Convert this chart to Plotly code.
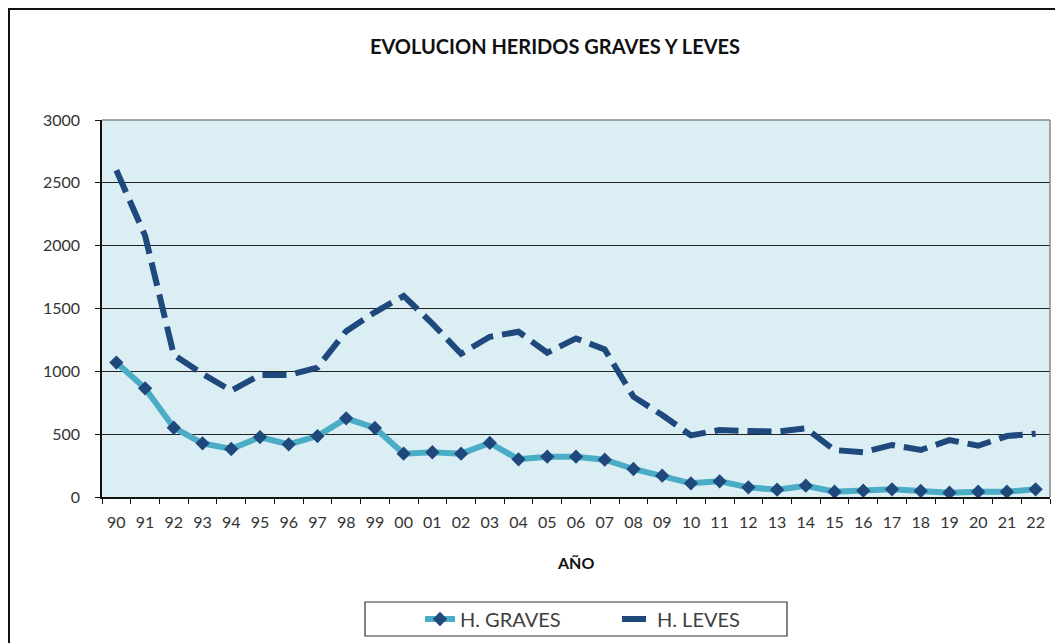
import plotly.graph_objects as go

years = ['90', '91', '92', '93', '94', '95', '96', '97', '98', '99',
         '00', '01', '02', '03', '04', '05', '06', '07', '08', '09',
         '10', '11', '12', '13', '14', '15', '16', '17', '18', '19',
         '20', '21', '22']
graves = [1070, 865, 551, 427, 382, 477, 419, 485, 626, 549,
          345, 356, 345, 430, 300, 321, 321, 297, 223, 170,
          109, 125, 77, 58, 90, 42, 50, 61, 48, 34,
          42, 42, 61]
leves = [2600, 2080, 1130, 980, 846, 970, 970, 1030, 1320, 1470,
         1600, 1380, 1140, 1275, 1315, 1148, 1262, 1175, 798, 652,
         490, 533, 525, 520, 546, 374, 355, 414, 374, 453,
         408, 485, 504]
yticks = [0, 500, 1000, 1500, 2000, 2500, 3000]

# the page body adds an 8px margin; size the figure to reach the window edges
OFF = 8
W, H = 1063 - OFF, 643 - OFF
# plot area in screen pixels: x 102..1050, y 120..497
SL, SR, ST, SB = 102, 1050, 120, 497
L, R, T, B = SL - OFF, W - (SR - OFF), ST - OFF, H - (SB - OFF)
PW, PH = W - L - R, H - T - B

def px(x):
    return (x - OFF - L) / PW

def py(y):
    return (H - B - (y - OFF)) / PH

def cx(x):
    return (x - OFF) / W

def cy(y):
    return 1 - (y - OFF) / H

FONT = "Lato, 'Open Sans', sans-serif"

fig = go.Figure()
fig.add_trace(go.Scatter(
    x=years, y=graves, name="H. GRAVES", mode="lines+markers",
    line=dict(color="#4BACC6", width=6),
    marker=dict(symbol="diamond", size=11, color="#1F497D"),
))
fig.add_trace(go.Scatter(
    x=years, y=leves, name="H. LEVES", mode="lines",
    line=dict(color="#1F497D", width=6, dash="24px,9px"),
))

fig.update_layout(
    width=W, height=H,
    margin=dict(l=L, r=R, t=T, b=B, pad=0, autoexpand=False),
    paper_bgcolor="white",
    plot_bgcolor="#DBEEF4",
    font=dict(family=FONT, color="#333333"),
    title=dict(text="<b>EVOLUCION HERIDOS GRAVES Y LEVES</b>",
               x=px(555), xref="paper", xanchor="center",
               y=cy(47), yref="container", yanchor="middle",
               font=dict(family=FONT, size=20, color="#111111")),
    showlegend=True,
    legend=dict(orientation="h", xref="container", yref="container",
                x=cx(420), xanchor="left", y=cy(619), yanchor="middle",
                bgcolor="rgba(0,0,0,0)", borderwidth=0,
                entrywidth=152, entrywidthmode="pixels",
                font=dict(family=FONT, size=20, color="#404040")),
    xaxis=dict(type="category", range=[-0.5, len(years) - 0.5],
               showline=True, linecolor="#111111", linewidth=1.5,
               ticks="outside", tickson="boundaries", ticklen=5, tickcolor="#111111",
               showgrid=False, tickangle=0, tickfont=dict(size=16, color="#333333"),
               ticklabelstandoff=10, fixedrange=True),
    yaxis=dict(range=[0, 3000], tickvals=yticks, showline=True, linecolor="#111111",
               linewidth=1.5, ticks="outside", ticklen=5, tickcolor="#111111",
               showgrid=True, gridcolor="#222222", gridwidth=1, zeroline=False,
               tickfont=dict(size=16, color="#333333"), ticklabelstandoff=12),
    annotations=[dict(text="<b>AÑO</b>", x=px(575), y=py(562), xref="paper", yref="paper",
                      showarrow=False, xanchor="center", yanchor="middle",
                      font=dict(family=FONT, size=16, color="#111111"))],
    shapes=[
        # outer chart border (as close to the page corner as the figure allows)
        dict(type="rect", xref="paper", yref="paper",
             x0=px(OFF + 1), x1=px(1090), y0=py(700), y1=py(OFF + 1),
             line=dict(color="#111111", width=2), layer="below"),
        # plot area top/right border
        dict(type="line", xref="paper", yref="paper", x0=0, x1=1, y0=1, y1=1,
             line=dict(color="#888888", width=1.5)),
        dict(type="line", xref="paper", yref="paper", x0=1, x1=1, y0=0, y1=1,
             line=dict(color="#888888", width=1.5)),
        # legend box
        dict(type="rect", xref="paper", yref="paper",
             x0=px(365), x1=px(787), y0=py(636), y1=py(602),
             line=dict(color="#333333", width=1.2)),
    ],
)

fig.write_html("out.html")
